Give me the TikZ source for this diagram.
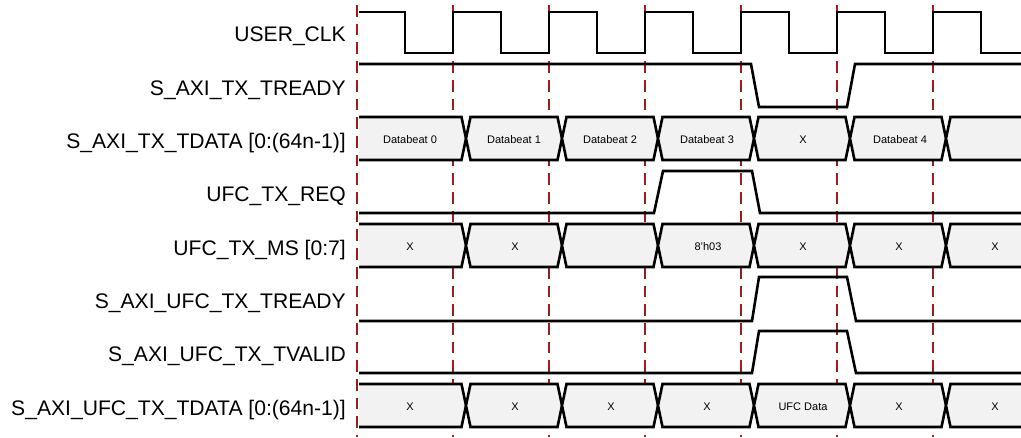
\documentclass[tikz,border=0pt]{standalone}
\usepackage{fontspec}
\setmainfont{Liberation Sans}
\definecolor{gridred}{HTML}{9B1C22}
\definecolor{busgray}{HTML}{F2F2F2}
\begin{document}
\begin{tikzpicture}[x=1pt,y=-1pt,
  sig/.style={line width=2.6pt},
  gridline/.style={draw=gridred, line width=1.6pt, dash pattern=on 11.7pt off 7pt},
  lbl/.style={anchor=base east, font=\fontsize{21.1}{24}\selectfont, inner sep=0pt},
  val/.style={anchor=center, font=\fontsize{11}{13}\selectfont, inner sep=0pt}]
\useasboundingbox (0,0) rectangle (1021,437);
% grid lines
\foreach \k in {0,...,6} {
  \draw[gridline] ({357+96*\k},5) -- ({357+96*\k},437);
}
% labels
\node[lbl] (l1) at (346,41.7) {USER\_CLK};
\node[lbl] (l2) at (346,95) {S\_AXI\_TX\_TREADY};
\node[lbl] (l3) at (346,148.3) {S\_AXI\_TX\_TDATA [0:(64n-1)]};
\node[lbl] (l4) at (346,201.7) {UFC\_TX\_REQ};
\node[lbl] (l5) at (346,255) {UFC\_TX\_MS [0:7]};
\node[lbl] (l6) at (346,308.3) {S\_AXI\_UFC\_TX\_TREADY};
\node[lbl] (l7) at (346,361.7) {S\_AXI\_UFC\_TX\_TVALID};
\node[lbl] (l8) at (346,415) {S\_AXI\_UFC\_TX\_TDATA [0:(64n-1)]};
% clock
\draw[sig] (359,12) foreach \k in {0,...,5} {
  -- ({405+96*\k},12) -- ({405+96*\k},53) -- ({453+96*\k},53) -- ({453+96*\k},12) }
  -- (981,12) -- (981,53) -- (1021,53);
% S_AXI_TX_TREADY
\draw[sig] (359,64) -- (751,64) -- (759,107) -- (847,107) -- (855,64) -- (1021,64);
% UFC_TX_REQ
\draw[sig] (359,213) -- (654,213) -- (663,171) -- (752,171) -- (760,213) -- (1021,213);
% S_AXI_UFC_TX_TREADY
\draw[sig] (359,321) -- (752,321) -- (759,277) -- (847,277) -- (856,321) -- (1021,321);
% S_AXI_UFC_TX_TVALID
\draw[sig] (359,373) -- (752,373) -- (759,331) -- (847,331) -- (856,373) -- (1021,373);
% buses
\foreach \T/\B in {117/160, 224/267, 384/427} {
  \pgfmathsetmacro{\M}{(\T+\B)/2}
  \fill[busgray] (359,\T) -- (461.5,\T) -- (466,\M) -- (461.5,\B) -- (359,\B) -- cycle;
  \draw[sig] (359,\T) -- (461.5,\T) -- (466,\M) -- (461.5,\B) -- (359,\B);
  \foreach \c in {466,562,658,754,850} {
    \filldraw[sig, fill=busgray] (\c,\M) -- (\c+4.5,\T) -- (\c+91.5,\T) -- (\c+96,\M) -- (\c+91.5,\B) -- (\c+4.5,\B) -- cycle;
  }
  \fill[busgray] (1021,\T) -- (950.5,\T) -- (946,\M) -- (950.5,\B) -- (1021,\B) -- cycle;
  \draw[sig] (1021,\T) -- (950.5,\T) -- (946,\M) -- (950.5,\B) -- (1021,\B);
}
% bus values
\node[val] (d0) at (410,139.5) {Databeat 0};
\node[val] (d1) at (514,139.5) {Databeat 1};
\node[val] (d2) at (610,139.5) {Databeat 2};
\node[val] (d3) at (707,139.5) {Databeat 3};
\node[val] (d4) at (803,139.5) {X};
\node[val] (d5) at (900,139.5) {Databeat 4};
\node[val] (m0) at (410,246.5) {X};
\node[val] (m1) at (515,246.5) {X};
\node[val] (m3) at (708,246.5) {8'h03};
\node[val] (m4) at (803,246.5) {X};
\node[val] (m5) at (899,246.5) {X};
\node[val] (m6) at (995,246.5) {X};
\node[val] (u0) at (410,406.5) {X};
\node[val] (u1) at (515,406.5) {X};
\node[val] (u2) at (611,406.5) {X};
\node[val] (u3) at (707,406.5) {X};
\node[val] (u4) at (803,406.5) {UFC Data};
\node[val] (u5) at (899,406.5) {X};
\node[val] (u6) at (995,406.5) {X};
\end{tikzpicture}
\end{document}
